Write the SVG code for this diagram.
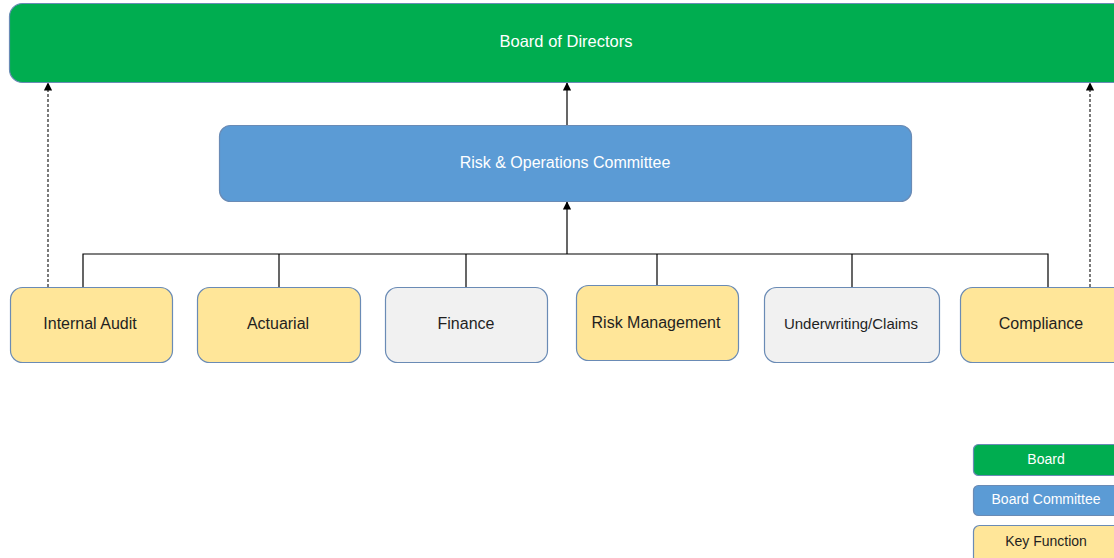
<svg xmlns="http://www.w3.org/2000/svg" width="1114" height="558" viewBox="0 0 1114 558">
  <style>
    .box { stroke: #6a8bb5; stroke-width: 1.2; }
    .board { fill: #00ad50; }
    .committee { fill: #5b9bd5; }
    .key { fill: #ffe699; }
    .other { fill: #f1f1f1; }
    .lbl { font-family: "Liberation Sans", Arial, sans-serif; font-size: 16px; text-anchor: middle; dominant-baseline: central; fill: #1f1f1f; }
    .lbl.light { fill: #ffffff; }
    .small { font-size: 14px; }
    .wire { fill: none; stroke: #000; stroke-width: 1.2; }
    .dash { fill: none; stroke: #222; stroke-width: 1.2; stroke-dasharray: 3 2; }
  </style>
  <defs>
    <marker id="arrow" viewBox="0 0 10 10" refX="9" refY="5" markerWidth="7" markerHeight="7" orient="auto">
      <path d="M0,0 L10,5 L0,10 z" fill="#000"/>
    </marker>
  </defs>
  <rect width="1114" height="558" fill="#ffffff"/>

  <g id="connectors">
    <!-- reporting lines up to the board -->
    <line class="wire" x1="567" y1="125" x2="567" y2="83" marker-end="url(#arrow)"/>
    <line class="wire" x1="567" y1="254" x2="567" y2="202" marker-end="url(#arrow)"/>
    <!-- bus joining the functions -->
    <polyline class="wire" points="83,287 83,254 1048,254 1048,287"/>
    <line class="wire" x1="279" y1="254" x2="279" y2="287"/>
    <line class="wire" x1="466" y1="254" x2="466" y2="287"/>
    <line class="wire" x1="657" y1="254" x2="657" y2="285"/>
    <line class="wire" x1="852" y1="254" x2="852" y2="287"/>
    <!-- direct dotted lines to the board -->
    <line class="dash" x1="48" y1="287" x2="48" y2="83" marker-end="url(#arrow)"/>
    <line class="dash" x1="1090" y1="287" x2="1090" y2="83" marker-end="url(#arrow)"/>
  </g>

  <g id="board-of-directors">
    <rect class="box board" x="9.5" y="3.5" width="1120" height="79" rx="13"/>
    <text class="lbl light" x="566" y="41" style="font-size:16.5px">Board of Directors</text>
  </g>

  <g id="risk-operations-committee">
    <rect class="box committee" x="219.5" y="125.5" width="692" height="76" rx="11"/>
    <text class="lbl light" x="565" y="162">Risk &amp; Operations Committee</text>
  </g>

  <g id="internal-audit">
    <rect class="box key" x="10.5" y="287.5" width="162" height="75" rx="12"/>
    <text class="lbl" x="90" y="323">Internal Audit</text>
  </g>
  <g id="actuarial">
    <rect class="box key" x="197.5" y="287.5" width="163" height="75" rx="12"/>
    <text class="lbl" x="278" y="323">Actuarial</text>
  </g>
  <g id="finance">
    <rect class="box other" x="385.5" y="287.5" width="162" height="75" rx="12"/>
    <text class="lbl" x="466" y="323">Finance</text>
  </g>
  <g id="risk-management">
    <rect class="box key" x="576.5" y="285.5" width="162" height="75" rx="12"/>
    <text class="lbl" x="656" y="322">Risk Management</text>
  </g>
  <g id="underwriting-claims">
    <rect class="box other" x="764.5" y="287.5" width="175" height="75" rx="12"/>
    <text class="lbl" x="851" y="323" style="font-size:15px">Underwriting/Claims</text>
  </g>
  <g id="compliance">
    <rect class="box key" x="960.5" y="287.5" width="170" height="75" rx="12"/>
    <text class="lbl" x="1041" y="323">Compliance</text>
  </g>

  <g id="legend-board">
    <rect class="box board" x="973.5" y="444.5" width="160" height="31" rx="5"/>
    <text class="lbl light small" x="1046" y="459">Board</text>
  </g>
  <g id="legend-committee">
    <rect class="box committee" x="973.5" y="485.5" width="160" height="30" rx="5"/>
    <text class="lbl light small" x="1046" y="499">Board Committee</text>
  </g>
  <g id="legend-key-function">
    <rect class="box key" x="973.5" y="525.5" width="160" height="40" rx="6"/>
    <text class="lbl small" x="1046" y="541">Key Function</text>
  </g>
</svg>
